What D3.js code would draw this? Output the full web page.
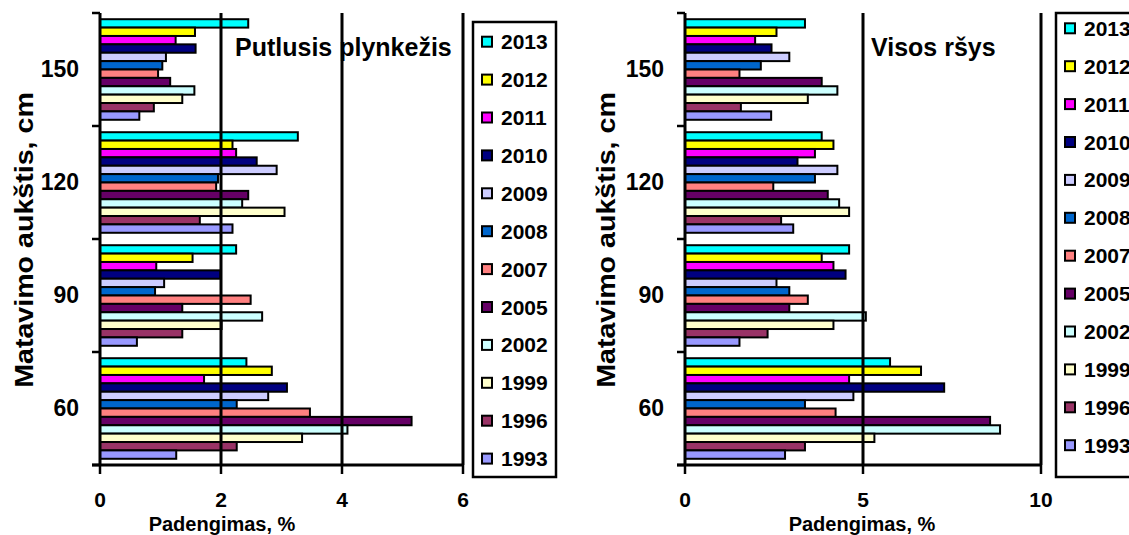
<!DOCTYPE html>
<html>
<head>
<meta charset="utf-8">
<script src="https://cdn.jsdelivr.net/npm/d3@7"></script>
<style>
  body { margin: 0; background: #fff; }
  text { font-family: "Liberation Sans", Arial, sans-serif; font-weight: bold; fill: #000; }
</style>
</head>
<body>
<div id="viz"></div>
<script>
// categories (top to bottom)
const heights = ["150", "120", "90", "60"];
const years = ["2013", "2012", "2011", "2010", "2009", "2008", "2007", "2005", "2002", "1999", "1996", "1993"];
const yearColors = ["#00FFFF", "#FFFF00", "#FF00FF", "#000080", "#CCCCFF", "#0066CC",
                    "#FF8080", "#660066", "#CCFFFF", "#FFFFCC", "#993366", "#9999FF"];

// Putlusis plynkežis, one array per height, values in year order above
const putlusis150 = [2.45, 1.57, 1.25, 1.58, 1.09, 1.03, 0.96, 1.16, 1.56, 1.36, 0.89, 0.65];
const putlusis120 = [3.27, 2.19, 2.25, 2.59, 2.92, 1.95, 1.92, 2.45, 2.35, 3.05, 1.65, 2.19];
const putlusis90  = [2.25, 1.53, 0.93, 1.99, 1.06, 0.91, 2.49, 1.36, 2.68, 2.01, 1.36, 0.61];
const putlusis60  = [2.42, 2.84, 1.72, 3.09, 2.78, 2.26, 3.47, 5.15, 4.09, 3.34, 2.26, 1.26];

// Visos rūšys
const visos150 = [3.37, 2.57, 1.97, 2.43, 2.93, 2.13, 1.53, 3.84, 4.28, 3.45, 1.57, 2.42];
const visos120 = [3.84, 4.17, 3.65, 3.16, 4.28, 3.65, 2.48, 4.01, 4.33, 4.61, 2.70, 3.04];
const visos90  = [4.61, 3.84, 4.17, 4.51, 2.57, 2.93, 3.45, 2.93, 5.08, 4.17, 2.32, 1.53];
const visos60  = [5.76, 6.63, 4.61, 7.28, 4.73, 3.37, 4.23, 8.57, 8.85, 5.32, 3.37, 2.81];

const leftTicks = [0, 2, 4, 6];
const rightTicks = [0, 5, 10];

const svg = d3.select("#viz").append("svg")
  .attr("width", 1129)
  .attr("height", 535);

function toRows(arrs) {
  const rows = [];
  heights.forEach((h, i) => {
    years.forEach((yr, j) => rows.push({ height: h, year: yr, value: arrs[i][j], color: yearColors[j] }));
  });
  return rows;
}

function drawPanel(opt) {
  const g = svg.append("g");

  const x = d3.scaleLinear()
    .domain([0, d3.max(opt.ticks)])
    .range([opt.x0, opt.x1]);

  const y = d3.scaleBand()
    .domain(heights)
    .range([13, 465])
    .paddingInner(0.11)
    .paddingOuter(0.055);

  const yInner = d3.scaleBand()
    .domain(years)
    .range([0, y.bandwidth()]);

  // bars
  g.selectAll("rect.bar")
    .data(opt.rows)
    .join("rect")
    .attr("class", "bar")
    .attr("x", x(0))
    .attr("y", d => y(d.height) + yInner(d.year))
    .attr("width", d => x(d.value) - x(0))
    .attr("height", yInner.bandwidth())
    .attr("fill", d => d.color)
    .attr("stroke", "#000")
    .attr("stroke-width", 2);

  // vertical grid lines
  g.selectAll("line.grid")
    .data(opt.ticks.slice(1))
    .join("line")
    .attr("x1", d => x(d)).attr("x2", d => x(d))
    .attr("y1", 13).attr("y2", 465)
    .attr("stroke", "#000")
    .attr("stroke-width", 3);

  // y axis: line, ticks at band boundaries, labels at band centres
  const half = (y.step() - y.bandwidth()) / 2;
  const bounds = heights.map(h => y(h) - half).concat([465]);
  g.append("line")
    .attr("x1", x(0)).attr("x2", x(0))
    .attr("y1", 13).attr("y2", 465)
    .attr("stroke", "#000").attr("stroke-width", 3);
  g.selectAll("line.ytick")
    .data(bounds)
    .join("line")
    .attr("x1", x(0) - 8).attr("x2", x(0))
    .attr("y1", d => d).attr("y2", d => d)
    .attr("stroke", "#000").attr("stroke-width", 2.5);
  g.selectAll("text.ylab")
    .data(heights)
    .join("text")
    .attr("x", x(0) - 21)
    .attr("y", d => y(d) + y.bandwidth() / 2 - 1)
    .attr("dy", "0.35em")
    .attr("text-anchor", "end")
    .style("font-size", "23px")
    .text(d => d);

  // x axis
  g.append("line")
    .attr("x1", x(0) - 8).attr("x2", x.range()[1])
    .attr("y1", 465).attr("y2", 465)
    .attr("stroke", "#000").attr("stroke-width", 3);
  g.selectAll("line.xtick")
    .data(opt.ticks)
    .join("line")
    .attr("x1", d => x(d)).attr("x2", d => x(d))
    .attr("y1", 465).attr("y2", 474)
    .attr("stroke", "#000").attr("stroke-width", 2.5);
  g.selectAll("text.xlab")
    .data(opt.ticks)
    .join("text")
    .attr("x", d => x(d))
    .attr("y", 507)
    .attr("text-anchor", "middle")
    .style("font-size", "21px")
    .text(d => d);

  // axis titles
  g.append("text")
    .attr("x", opt.xTitleX)
    .attr("y", 531)
    .attr("text-anchor", "middle")
    .style("font-size", "20px")
    .text("Padengimas, %");
  g.append("text")
    .attr("transform", `translate(${opt.yTitleX},240) rotate(-90) scale(1.1,1)`)
    .attr("text-anchor", "middle")
    .style("font-size", "26px")
    .text("Matavimo aukštis, cm");

  // panel title
  g.append("text")
    .attr("x", opt.titleX)
    .attr("y", 56)
    .style("font-size", "25px")
    .text(opt.title);

  // legend
  const lg = g.append("g");
  lg.append("rect")
    .attr("x", opt.legX).attr("y", opt.legTop)
    .attr("width", opt.legW).attr("height", 477 - opt.legTop)
    .attr("fill", "#fff").attr("stroke", "#000").attr("stroke-width", 2.5);
  const items = lg.selectAll("g.item")
    .data(years)
    .join("g")
    .attr("transform", (d, i) => `translate(${opt.legX + 9},${opt.legFirst + i * 37.9})`);
  items.append("rect")
    .attr("x", 0).attr("y", -5)
    .attr("width", 10).attr("height", 10)
    .attr("fill", (d, i) => yearColors[i])
    .attr("stroke", "#000").attr("stroke-width", 2);
  items.append("text")
    .attr("x", 19).attr("dy", "0.36em")
    .style("font-size", "21px")
    .text(d => d);
}

drawPanel({
  rows: toRows([putlusis150, putlusis120, putlusis90, putlusis60]),
  ticks: leftTicks, x0: 100, x1: 463,
  title: "Putlusis plynkežis", titleX: 235,
  xTitleX: 222, yTitleX: 33,
  legX: 473, legW: 83, legTop: 22, legFirst: 41.7
});

drawPanel({
  rows: toRows([visos150, visos120, visos90, visos60]),
  ticks: rightTicks, x0: 685, x1: 1041,
  title: "Visos ršys", titleX: 871,
  xTitleX: 862, yTitleX: 615,
  legX: 1056, legW: 90, legTop: 13, legFirst: 28.3
});
</script>
</body>
</html>
